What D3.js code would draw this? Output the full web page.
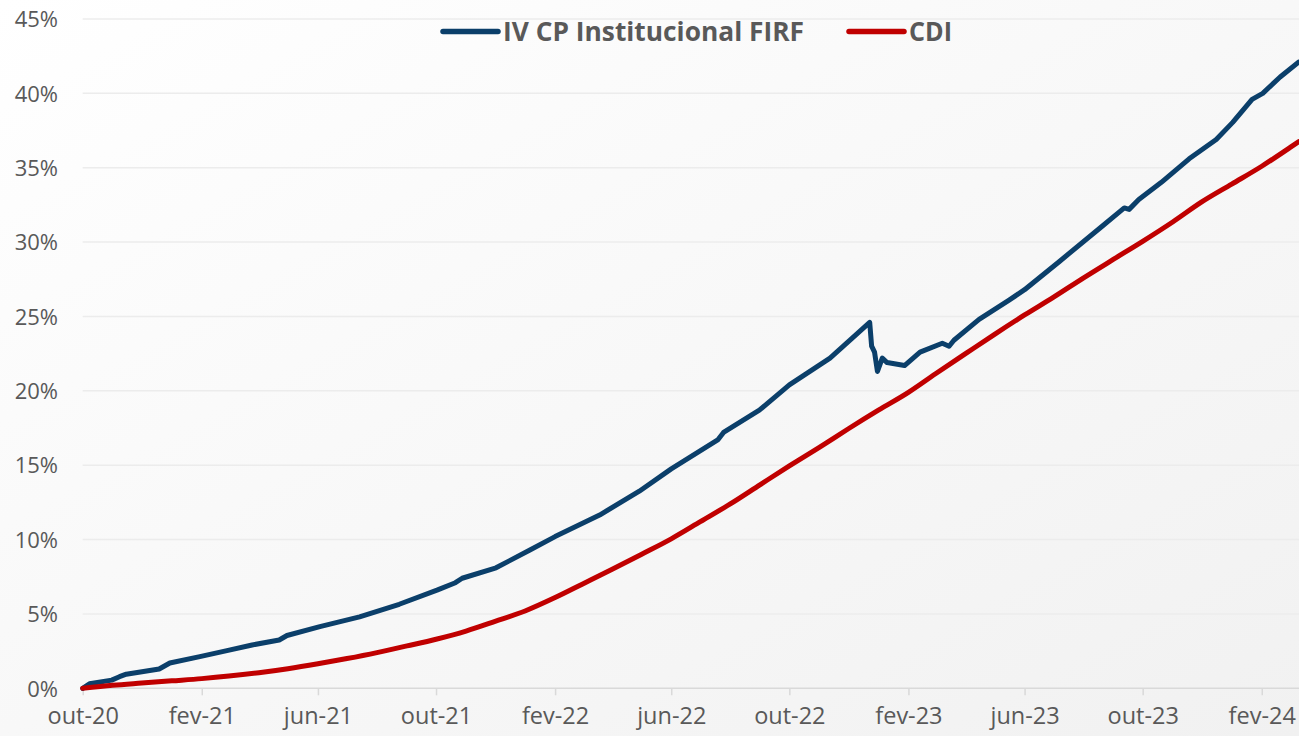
<!DOCTYPE html>
<html>
<head>
<meta charset="utf-8">
<script src="https://cdn.jsdelivr.net/npm/d3@7"></script>
<style>
  html, body { margin: 0; padding: 0; background: #fff; }
  svg { display: block; }
</style>
</head>
<body>
<svg id="chart"></svg>
<script>
// series names
var seriesNames = ["IV CP Institucional FIRF", "CDI"];

// IV CP Institucional FIRF, cumulative return (%)
var fundDates = ["2020-10-01","2020-10-08","2020-10-31","2020-11-08","2020-11-15","2020-12-19","2020-12-30",
  "2021-01-30","2021-02-27","2021-03-25","2021-04-22","2021-04-30","2021-06-03","2021-07-14","2021-08-24",
  "2021-10-02","2021-10-21","2021-10-28","2021-12-02","2022-01-06","2022-02-01","2022-03-19","2022-04-29",
  "2022-06-01","2022-07-19","2022-07-25","2022-08-31","2022-10-01","2022-11-12","2022-12-23","2022-12-25",
  "2022-12-28","2022-12-31","2023-01-05","2023-01-10","2023-01-28","2023-02-13","2023-03-08","2023-03-15",
  "2023-03-20","2023-04-15","2023-05-16","2023-06-01","2023-07-07","2023-08-17","2023-09-12","2023-09-17",
  "2023-09-27","2023-10-20","2023-11-18","2023-12-16","2024-01-02","2024-01-22","2024-02-02","2024-02-20",
  "2024-03-10"];
var fundValues = [0, 0.3, 0.55, 0.78, 0.95, 1.3, 1.7,
  2.13, 2.53, 2.91, 3.25, 3.55, 4.15, 4.8, 5.65,
  6.6, 7.1, 7.4, 8.1, 9.3, 10.2, 11.65, 13.25,
  14.75, 16.7, 17.2, 18.7, 20.4, 22.2, 24.6, 23.0,
  22.6, 21.3, 22.2, 21.9, 21.7, 22.6, 23.2, 23.0,
  23.4, 24.8, 26.1, 26.8, 28.7, 30.9, 32.3, 32.2,
  32.86, 34.0, 35.6, 36.9, 38.05, 39.6, 40.0, 41.1,
  42.1];

// CDI, cumulative return (%)
var cdiDates = ["2020-10-01","2020-11-01","2020-12-01","2021-01-01","2021-02-01","2021-03-01","2021-04-01",
  "2021-05-01","2021-06-01","2021-07-01","2021-08-01","2021-09-01","2021-10-01","2021-11-01","2021-12-01",
  "2022-01-01","2022-02-01","2022-03-01","2022-04-01","2022-05-01","2022-06-01","2022-07-01","2022-08-01",
  "2022-09-01","2022-10-01","2022-11-01","2022-12-01","2023-01-01","2023-02-01","2023-03-01","2023-04-01",
  "2023-05-01","2023-06-01","2023-07-01","2023-08-01","2023-09-01","2023-10-01","2023-11-01","2023-12-01",
  "2024-01-01","2024-02-01","2024-03-01","2024-03-10"];
var cdiValues = [0, 0.2, 0.35, 0.5, 0.65, 0.82, 1.05,
  1.32, 1.65, 2.0, 2.4, 2.85, 3.3, 3.85, 4.5,
  5.2, 6.1, 7.0, 8.0, 9.0, 10.05, 11.2, 12.4,
  13.7, 14.95, 16.2, 17.45, 18.7, 19.9, 21.15, 22.5,
  23.8, 25.1, 26.3, 27.6, 28.85, 30.05, 31.35, 32.7,
  33.9, 35.1, 36.35, 36.75];

// axis ticks
var tickLabels = ["out-20","fev-21","jun-21","out-21","fev-22","jun-22","out-22","fev-23","jun-23","out-23","fev-24"];
var yTicks = [0, 5, 10, 15, 20, 25, 30, 35, 40, 45];

var W = 1299, H = 736;
var parse = d3.timeParse("%Y-%m-%d");

var svg = d3.select("#chart").attr("width", W).attr("height", H);

// background gradient
var defs = svg.append("defs");
var grad = defs.append("linearGradient").attr("id", "bg")
  .attr("x1", "0%").attr("y1", "0%").attr("x2", "100%").attr("y2", "100%");
grad.append("stop").attr("offset", "0%").attr("stop-color", "#ffffff");
grad.append("stop").attr("offset", "100%").attr("stop-color", "#f1f1f1");
svg.append("rect").attr("width", W).attr("height", H).attr("fill", "url(#bg)");

var x = d3.scaleTime()
  .domain([parse("2020-10-01"), parse("2024-03-11")])
  .range([82.7, 1299.5]);
var y = d3.scaleLinear().domain([0, 45]).range([688.3, 19]);

// gridlines
svg.append("g").selectAll("line").data(yTicks.slice(1)).join("line")
  .attr("x1", 82.7).attr("x2", W)
  .attr("y1", function (d) { return y(d); })
  .attr("y2", function (d) { return y(d); })
  .attr("stroke", "#ececec").attr("stroke-width", 1.5);

// y axis labels
var yAxis = svg.append("g").attr("transform", "translate(58,0)")
  .call(d3.axisLeft(y).tickValues(yTicks).tickSize(0).tickPadding(0)
    .tickFormat(function (d) { return d + "%"; }));
yAxis.select(".domain").remove();
yAxis.selectAll("text")
  .attr("font-family", "'Open Sans', sans-serif").attr("font-size", 22)
  .attr("fill", "#595959").attr("dy", "0.35em");

// x axis
var tickDates = d3.timeMonth.range(parse("2020-10-01"), parse("2024-03-01"), 4);
var xAxis = svg.append("g").attr("transform", "translate(0," + y(0) + ")")
  .call(d3.axisBottom(x).tickValues(tickDates).tickSize(7).tickPadding(12)
    .tickFormat(function (d, i) { return tickLabels[i]; }));
xAxis.select(".domain").attr("d", "M82.7,0H" + W).attr("stroke", "#d9d9d9").attr("stroke-width", 1.5);
xAxis.selectAll(".tick line").attr("stroke", "#d9d9d9").attr("stroke-width", 1.5);
xAxis.selectAll("text")
  .attr("font-family", "'Open Sans', sans-serif").attr("font-size", 23.5)
  .attr("fill", "#595959");

// lines
var line = d3.line()
  .x(function (d) { return x(d[0]); })
  .y(function (d) { return y(d[1]); });

var fundData = fundDates.map(function (d, i) { return [parse(d), fundValues[i]]; });
var cdiData = cdiDates.map(function (d, i) { return [parse(d), cdiValues[i]]; });

svg.append("path").datum(fundData)
  .attr("d", line)
  .attr("fill", "none").attr("stroke", "#0b3f6a").attr("stroke-width", 5)
  .attr("stroke-linejoin", "round").attr("stroke-linecap", "round");

svg.append("path").datum(cdiData)
  .attr("d", line.curve(d3.curveMonotoneX))
  .attr("fill", "none").attr("stroke", "#c00000").attr("stroke-width", 5)
  .attr("stroke-linejoin", "round").attr("stroke-linecap", "round");

// legend
var legendItems = [
  { name: seriesNames[0], color: "#0b3f6a", x1: 443, x2: 498, tx: 503, tw: 301 },
  { name: seriesNames[1], color: "#c00000", x1: 849, x2: 904, tx: 909, tw: 43 }
];
var lg = svg.append("g");
legendItems.forEach(function (it) {
  lg.append("line")
    .attr("x1", it.x1).attr("x2", it.x2).attr("y1", 31.5).attr("y2", 31.5)
    .attr("stroke", it.color).attr("stroke-width", 5.5).attr("stroke-linecap", "round");
  lg.append("text")
    .attr("x", it.tx).attr("y", 41)
    .attr("font-family", "'Open Sans', sans-serif").attr("font-weight", 700)
    .attr("font-size", 27).attr("fill", "#595959")
    .attr("textLength", it.tw).attr("lengthAdjust", "spacingAndGlyphs")
    .text(it.name);
});
</script>
</body>
</html>
